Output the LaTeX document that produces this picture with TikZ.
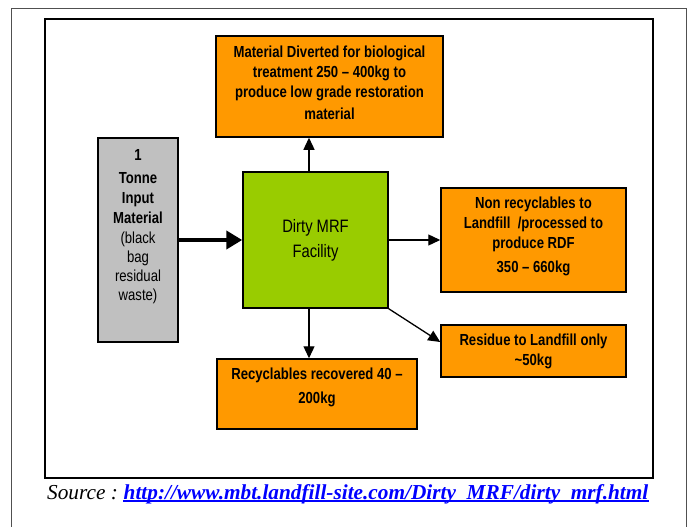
\documentclass[tikz,border=0pt]{standalone}
\usepackage{fontspec}
\setmainfont{Liberation Serif}
\newfontfamily\nar[FakeStretch=0.82,Ligatures=TeX]{Liberation Sans}
\usetikzlibrary{arrows.meta,calc}
\definecolor{boxorange}{RGB}{255,153,0}
\definecolor{boxgreen}{RGB}{153,204,0}
\definecolor{boxgray}{RGB}{192,192,192}
\definecolor{linkblue}{RGB}{0,0,255}
\definecolor{framegray}{RGB}{80,80,80}
\begin{document}
\begin{tikzpicture}[x=1pt,y=-1pt,
  box/.style={draw=black,line width=1.5pt,inner sep=0pt},
  txt/.style={font=\nar\fontsize{16}{20}\selectfont\bfseries,align=center,inner sep=0pt},
  flow/.style={-{Triangle[length=12pt,width=11pt]},line width=1.3pt},
  bigflow/.style={-{Triangle[length=16pt,width=18pt]},line width=4.5pt}]
\useasboundingbox (0,0) rectangle (689,527);
\fill[white] (0,0) rectangle (689,527);
% frames
\draw[framegray,line width=0.9pt] (11,530) -- (11,8) -- (686,8) -- (686,530);
\draw[line width=2.5pt] (45,19) rectangle (653,478);
% boxes
\node[box,fill=boxorange,minimum width=227pt,minimum height=101pt] (top) at (329.5,86.5) {};
\node[box,fill=boxgray,minimum width=80pt,minimum height=204pt] (gray) at (138,240) {};
\node[box,fill=boxgreen,minimum width=145pt,minimum height=136pt] (green) at (315.5,240) {};
\node[box,fill=boxorange,minimum width=185pt,minimum height=104pt] (nonrec) at (533.5,240) {};
\node[box,fill=boxorange,minimum width=185pt,minimum height=52pt] (resid) at (533.5,351) {};
\node[box,fill=boxorange,minimum width=200pt,minimum height=70pt] (recyc) at (317,394) {};
% texts
\node[txt] (topt) at ([yshift=4pt]top.center) {Material Diverted for biological\\treatment 250 \textendash\ 400kg to\\produce low grade restoration\\[2pt]material};
\node[txt,align=center] (grayt) at ([yshift=13pt]gray.center) {1\\[3pt]Tonne\\Input\\Material\\{\mdseries (black}\\[-1pt]{\mdseries bag}\\[-1pt]{\mdseries residual}\\[-1pt]{\mdseries waste)}};
\node[font=\nar\fontsize{18}{25}\selectfont,align=center,inner sep=0pt] (greent) at (green.center) {Dirty MRF\\Facility};
\node[txt] (nonrect) at ([yshift=4pt]nonrec.center) {Non recyclables to\\Landfill \ /processed to\\produce RDF\\[4pt]350 \textendash\ 660kg};
\node[txt] (residt) at (resid.center) {Residue to Landfill only\\\textasciitilde50kg};
\node[txt,font=\nar\fontsize{16}{24}\selectfont\bfseries] (recyct) at ([yshift=7pt]recyc.center) {Recyclables recovered 40 \textendash\\200kg};
% connectors
\coordinate (vx) at (309,0);
\draw[bigflow] (gray.east) -- (green.west);
\draw[flow] (green.north -| vx) -- (top.south -| vx);
\draw[flow] (green.south -| vx) -- (recyc.north -| vx);
\draw[flow] (green.east) -- (nonrec.west);
\draw[flow] (green.south east) -- ([yshift=9pt]resid.west);
% source line
\node[anchor=base west,inner sep=0pt,font=\fontsize{21.3}{25}\selectfont\itshape] (src) at (47,499) {Source :};
\node[anchor=base west,inner sep=0pt,font=\fontsize{21.3}{25}\selectfont\bfseries\itshape,text=linkblue] (link) at ([xshift=5.3pt]src.base east) {http://www.mbt.landfill-site.com/Dirty\_MRF/dirty\_mrf.html};
\draw[linkblue,line width=1.6pt] ([yshift=-2pt]link.base west) -- ([yshift=-2pt]link.base east);
\end{tikzpicture}
\end{document}
